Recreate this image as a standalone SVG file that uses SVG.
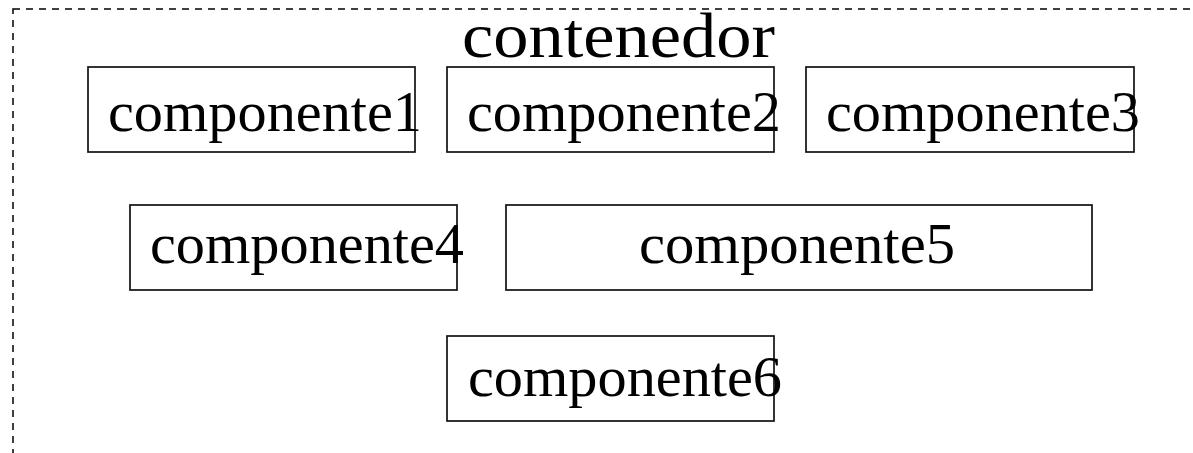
<svg xmlns="http://www.w3.org/2000/svg" width="1193" height="453" viewBox="0 0 1193 453">
<style>
.box{fill:#fff;stroke:#111;stroke-width:1.7}
.cont{fill:none;stroke:#000;stroke-width:1.5;stroke-dasharray:7 6}
.lbl{font-family:"Liberation Serif","DejaVu Serif",serif;font-size:56px;fill:#000}
.title{font-family:"Liberation Serif","DejaVu Serif",serif;font-size:64px;fill:#000}
</style>
<rect width="1193" height="453" fill="#fff"/>
<g id="contenedor">
<rect class="cont" x="13" y="9" width="1200" height="460"/>
<text class="title" x="462" y="57" textLength="313" lengthAdjust="spacingAndGlyphs">contenedor</text>
</g>
<g id="componente1">
<rect class="box" x="88" y="67" width="327" height="85"/>
<text class="lbl" x="108" y="131" textLength="314" lengthAdjust="spacingAndGlyphs">componente1</text>
</g>
<g id="componente2">
<rect class="box" x="447" y="67" width="327" height="85"/>
<text class="lbl" x="467" y="131" textLength="314" lengthAdjust="spacingAndGlyphs">componente2</text>
</g>
<g id="componente3">
<rect class="box" x="806" y="67" width="328" height="85"/>
<text class="lbl" x="826" y="131" textLength="314" lengthAdjust="spacingAndGlyphs">componente3</text>
</g>
<g id="componente4">
<rect class="box" x="130" y="205" width="327" height="85"/>
<text class="lbl" x="150" y="263" textLength="314" lengthAdjust="spacingAndGlyphs">componente4</text>
</g>
<g id="componente5">
<rect class="box" x="506" y="205" width="586" height="85"/>
<text class="lbl" x="639" y="263" textLength="316" lengthAdjust="spacingAndGlyphs">componente5</text>
</g>
<g id="componente6">
<rect class="box" x="447" y="336" width="327" height="85"/>
<text class="lbl" x="468" y="396" textLength="314" lengthAdjust="spacingAndGlyphs">componente6</text>
</g>
<g id="connectors"></g>
</svg>
